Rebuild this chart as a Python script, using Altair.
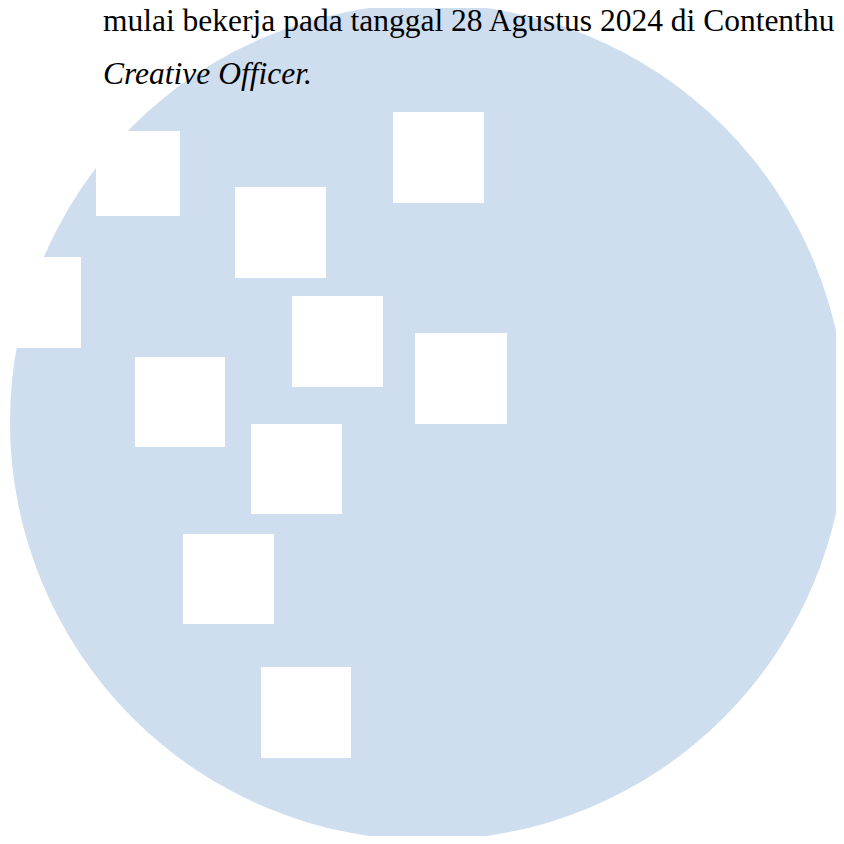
import altair as alt
import pandas as pd

# Page coordinates (pixels of the 844x844 reference)
circle_cx = [428]
circle_cy = [422]
circle_r = [418]

sq_x0 = [96, 393, 235, -10, 292, 415, 135, 251, 183, 261]
sq_x1 = [180, 484, 326, 81, 383, 507, 225, 342, 274, 351]
sq_y0 = [131, 112, 187, 257, 296, 333, 357, 424, 534, 667]
sq_y1 = [216, 203, 278, 348, 387, 424, 447, 514, 624, 758]

text_lines = ["mulai bekerja pada tanggal 28 Agustus 2024 di Contenthu", "Creative Officer."]
text_x = [103, 103]
text_y = [31, 84]
text_style = ["normal", "italic"]

W = 828
H = 828
xs = alt.Scale(domain=[8, 8 + W], nice=False, zero=False)
ys = alt.Scale(domain=[8, 8 + H], nice=False, zero=False, reverse=True)

circ_df = pd.DataFrame({"cx": circle_cx, "cy": circle_cy, "r": circle_r})
circ_df["size"] = (2 * circ_df["r"]) ** 2
sq_df = pd.DataFrame({"x0": sq_x0, "x1": sq_x1, "y0": sq_y0, "y1": sq_y1})
txt_df = pd.DataFrame({"t": text_lines, "x": text_x, "y": text_y, "s": text_style})

circle = alt.Chart(circ_df).mark_circle(color="#cedeee", opacity=1, clip=True).encode(
    x=alt.X("cx:Q", scale=xs, axis=None),
    y=alt.Y("cy:Q", scale=ys, axis=None),
    size=alt.Size("size:Q", scale=None, legend=None),
)

squares = alt.Chart(sq_df).mark_rect(color="white", clip=True).encode(
    x=alt.X("x0:Q", scale=xs, axis=None),
    x2="x1:Q",
    y=alt.Y("y0:Q", scale=ys, axis=None),
    y2="y1:Q",
)

line1 = alt.Chart(txt_df[txt_df.s == "normal"]).mark_text(
    align="left", baseline="alphabetic", font="Liberation Serif", fontSize=31.5,
    color="black",
).encode(
    x=alt.X("x:Q", scale=xs, axis=None),
    y=alt.Y("y:Q", scale=ys, axis=None),
    text="t:N",
)
line2 = alt.Chart(txt_df[txt_df.s == "italic"]).mark_text(
    align="left", baseline="alphabetic", font="Liberation Serif", fontSize=31.5,
    fontStyle="italic", color="black",
).encode(
    x=alt.X("x:Q", scale=xs, axis=None),
    y=alt.Y("y:Q", scale=ys, axis=None),
    text="t:N",
)

chart = alt.layer(circle, squares, line1, line2).properties(
    width=W, height=H, padding=0, background="white",
    autosize=alt.AutoSizeParams(type="none"),
).configure_view(stroke=None)

chart.save("out.html", embed_options={"renderer": "svg", "actions": False})
